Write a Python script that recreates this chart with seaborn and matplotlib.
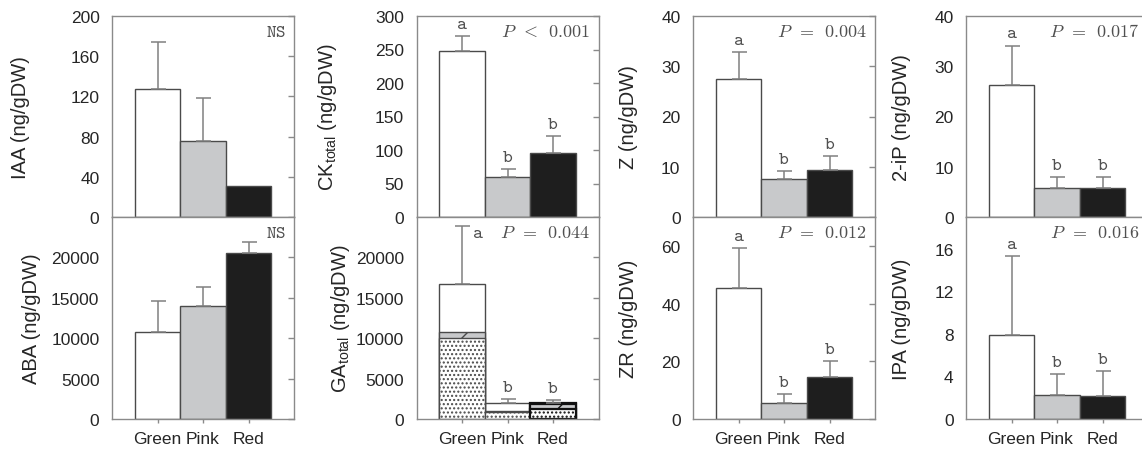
import numpy as np
import pandas as pd
import matplotlib
matplotlib.use("Agg")
import matplotlib.pyplot as plt
import seaborn as sns

# ---- data: means and upper ends of the error bars (mean + SE) ----
stages = ["Green", "Pink", "Red"]

iaa_mean = [127.5, 75.6, 30.8]
iaa_upper = [174.0, 118.0, 30.8]
ck_mean = [248.0, 59.5, 95.5]
ck_upper = [270.5, 71.0, 121.0]
z_mean = [27.4, 7.5, 9.4]
z_upper = [32.8, 9.1, 12.2]
ip_mean = [26.2, 5.7, 5.8]
ip_upper = [34.1, 7.9, 8.0]

aba_mean = [10750, 13950, 20600]
aba_upper = [14550, 16350, 21850]
ga_dotted = [10000, 830, 1250]
ga_hatched = [750, 100, 620]
ga_open = [6000, 1030, 170]
ga_upper = [23900, 2500, 2290]
zr_mean = [45.5, 5.7, 14.6]
zr_upper = [59.2, 8.7, 20.0]
ipa_mean = [7.87, 2.27, 2.2]
ipa_upper = [15.3, 4.25, 4.47]

ck_letters = ["a", "b", "b"]
z_letters = ["a", "b", "b"]
ip_letters = ["a", "b", "b"]
ga_letters = ["a", "b", "b"]
zr_letters = ["a", "b", "b"]
ipa_letters = ["a", "b", "b"]

# ---- style ----
sns.set_theme(style="white")
plt.rcParams["font.family"] = ["Liberation Sans", "DejaVu Sans"]
plt.rcParams["hatch.linewidth"] = 1.0

bar_colors = {"Green": "#ffffff", "Pink": "#c8c9cb", "Red": "#1e1e1e"}
edge_col = "#4a4a4a"
spine_col = "#8a8a8a"
err_col = "#808080"
text_col = "#262626"
note_col = "#505050"
letter_size = 13.5
note_size = 13

FIG_W, FIG_H = 1142, 452
fig = plt.figure(figsize=(FIG_W / 100, FIG_H / 100), dpi=100)

col_left_px = [112, 416.5, 693, 966]
ax_w_px = 182
top_row = (17, 218)
bot_row = (218, 420)


def make_axes(col, row):
    y0, y1 = row
    return fig.add_axes([col_left_px[col] / FIG_W, (FIG_H - y1) / FIG_H,
                         ax_w_px / FIG_W, (y1 - y0) / FIG_H])


def style_axes(ax, ylim, yticks, ylabel, label_x, bottom_row):
    ax.set_xlim(-1, 3)
    ax.set_ylim(*ylim)
    ax.set_yticks(yticks)
    ax.set_yticklabels([f"{t:g}" for t in yticks])
    ax.set_xticks([0, 1, 2])
    for sp in ax.spines.values():
        sp.set_color(spine_col)
        sp.set_linewidth(1.0)
    ax.tick_params(axis="y", left=False, right=True, direction="in", length=4,
                   width=1, color=spine_col, labelsize=12.5, labelcolor=text_col, pad=9)
    ax.tick_params(axis="x", bottom=True, top=False, direction="out", length=3,
                   width=1, color=spine_col, labelsize=12.5, labelcolor=text_col,
                   pad=6, labelbottom=bottom_row)
    if bottom_row:
        ax.set_xticklabels(stages)
    ax.set_xlabel("")
    ax.set_ylabel(ylabel, fontsize=14.5, color=text_col, va="center")
    ax.yaxis.set_label_coords(label_x, 0.5)


def add_errors(ax, mean, upper):
    x = np.arange(len(mean), dtype=float)
    mean = np.asarray(mean, float)
    upper = np.asarray(upper, float)
    keep = upper > mean
    ax.errorbar(x[keep], mean[keep], yerr=[np.zeros(keep.sum()), (upper - mean)[keep]],
                fmt="none", ecolor=err_col, elinewidth=1.1, capsize=5.4, capthick=1.1,
                zorder=3)


def letter(ax, x, y, t, dx=0, dy=3, ha="center", va="bottom"):
    ax.annotate(r"$\mathtt{%s}$" % t, xy=(x, y), xytext=(dx, dy),
                textcoords="offset points", ha=ha, va=va,
                fontsize=letter_size, color=note_col, math_fontfamily="cm")


def add_letters(ax, upper, letters):
    for i, (u, t) in enumerate(zip(upper, letters)):
        letter(ax, i, u, t)


def add_note(ax, text):
    ax.text(1 - 8 / ax_w_px, 0.925, text, transform=ax.transAxes, ha="right",
            va="center", fontsize=note_size, color=note_col, math_fontfamily="cm")


def simple_bars(ax, mean):
    df = pd.DataFrame({"stage": stages, "value": mean})
    sns.barplot(data=df, x="stage", y="value", hue="stage", order=stages,
                hue_order=stages, palette=bar_colors, width=1.0, saturation=1,
                edgecolor=edge_col, linewidth=1.0, errorbar=None, legend=False, ax=ax)


def p_text(sym, val):
    return r"$P\enspace\mathtt{%s}\enspace\mathtt{%s}$" % (sym, val)


# ---- top row ----
ax = make_axes(0, top_row)
simple_bars(ax, iaa_mean)
add_errors(ax, iaa_mean, iaa_upper)
add_note(ax, r"$\mathtt{NS}$")
style_axes(ax, (0, 200), [0, 40, 80, 120, 160, 200], "IAA (ng/gDW)", -0.50, False)

ax = make_axes(1, top_row)
simple_bars(ax, ck_mean)
add_errors(ax, ck_mean, ck_upper)
add_letters(ax, ck_upper, ck_letters)
add_note(ax, p_text("<", "0.001"))
style_axes(ax, (0, 300), [0, 50, 100, 150, 200, 250, 300],
           r"CK$_{\mathregular{total}}$ (ng/gDW)", -0.49, False)

ax = make_axes(2, top_row)
simple_bars(ax, z_mean)
add_errors(ax, z_mean, z_upper)
add_letters(ax, z_upper, z_letters)
add_note(ax, p_text("=", "0.004"))
style_axes(ax, (0, 40), [0, 10, 20, 30, 40], "Z (ng/gDW)", -0.357, False)

ax = make_axes(3, top_row)
simple_bars(ax, ip_mean)
add_errors(ax, ip_mean, ip_upper)
add_letters(ax, ip_upper, ip_letters)
add_note(ax, p_text("=", "0.017"))
style_axes(ax, (0, 40), [0, 10, 20, 30, 40], "2-iP (ng/gDW)", -0.354, False)

# ---- bottom row ----
ax = make_axes(0, bot_row)
simple_bars(ax, aba_mean)
add_errors(ax, aba_mean, aba_upper)
add_note(ax, r"$\mathtt{NS}$")
style_axes(ax, (0, 25000), [0, 5000, 10000, 15000, 20000], "ABA (ng/gDW)", -0.445, True)

# GA: stacked fractions drawn as overlapping cumulative bars
ax = make_axes(1, bot_row)
ga_total = np.array(ga_dotted) + np.array(ga_hatched) + np.array(ga_open)
ga_mid = np.array(ga_dotted) + np.array(ga_hatched)
layers = [
    (ga_total, "#ffffff", None),
    (ga_mid, "#c8c9cb", "/"),
    (np.array(ga_dotted), "#ffffff", "...."),
]
for heights, face, hatch in layers:
    df = pd.DataFrame({"stage": stages, "value": heights})
    sns.barplot(data=df, x="stage", y="value", order=stages, color=face,
                width=1.0, saturation=1, edgecolor=edge_col, linewidth=1.0,
                errorbar=None, hatch=hatch, ax=ax)
for p in ax.patches:
    if abs(p.get_x() + p.get_width() / 2 - 2) < 0.01:
        p.set_edgecolor("#111111")
        p.set_linewidth(1.6)
add_errors(ax, ga_total, ga_upper)
letter(ax, 0, ga_upper[0], ga_letters[0], dx=7, dy=1, ha="left", va="top")
for i in (1, 2):
    letter(ax, i, ga_upper[i], ga_letters[i])
add_note(ax, p_text("=", "0.044"))
style_axes(ax, (0, 25000), [0, 5000, 10000, 15000, 20000],
           r"GA$_{\mathregular{total}}$ (ng/gDW)", -0.415, True)

ax = make_axes(2, bot_row)
simple_bars(ax, zr_mean)
add_errors(ax, zr_mean, zr_upper)
add_letters(ax, zr_upper, zr_letters)
add_note(ax, p_text("=", "0.012"))
style_axes(ax, (0, 70), [0, 20, 40, 60], "ZR (ng/gDW)", -0.357, True)

ax = make_axes(3, bot_row)
simple_bars(ax, ipa_mean)
add_errors(ax, ipa_mean, ipa_upper)
add_letters(ax, ipa_upper, ipa_letters)
add_note(ax, p_text("=", "0.016"))
style_axes(ax, (0, 19), [0, 4, 8, 12, 16], "IPA (ng/gDW)", -0.354, True)

fig.savefig("out.png", dpi=100)
